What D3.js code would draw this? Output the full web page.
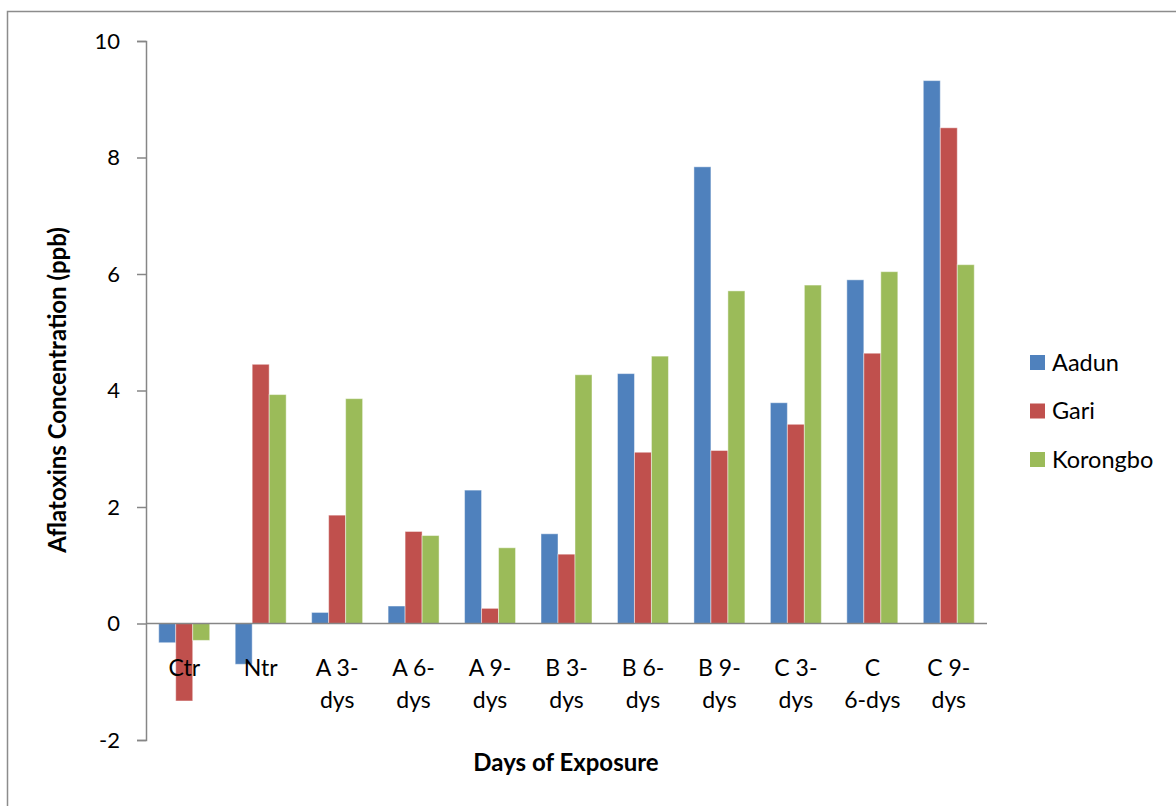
<!DOCTYPE html>
<html>
<head>
<meta charset="utf-8">
<script src="https://cdn.jsdelivr.net/npm/d3@7"></script>
<style>
  body { margin: 0; background: #fff; }
  text { font-family: Lato, "Open Sans", sans-serif; fill: #000; }
</style>
</head>
<body>
<div id="chart"></div>
<script>
// data
var categories = ["Ctr", "Ntr", "A 3-dys", "A 6-dys", "A 9-dys", "B 3-dys", "B 6-dys", "B 9-dys", "C 3-dys", "C 6-dys", "C 9-dys"];
// how each category label wraps onto two lines
var categoryLines = [["Ctr"], ["Ntr"], ["A 3-", "dys"], ["A 6-", "dys"], ["A 9-", "dys"], ["B 3-", "dys"], ["B 6-", "dys"], ["B 9-", "dys"], ["C 3-", "dys"], ["C", "6-dys"], ["C 9-", "dys"]];
var seriesNames = ["Aadun", "Gari", "Korongbo"];
var aadun    = [-0.33, -0.70, 0.19, 0.30, 2.29, 1.54, 4.29, 7.84, 3.79, 5.90, 9.32];
var gari     = [-1.33, 4.45, 1.86, 1.58, 0.26, 1.19, 2.94, 2.97, 3.42, 4.64, 8.51];
var korongbo = [-0.29, 3.93, 3.86, 1.51, 1.30, 4.27, 4.59, 5.71, 5.81, 6.04, 6.16];
var yTicks = [-2, 0, 2, 4, 6, 8, 10];
var colors = ["#4F81BD", "#C0504D", "#9BBB59"];

var svgWidth = 1176;
var svgHeight = 806;

// plot area
var margin = { top: 41, left: 146 };
var plotWidth = 841;
var plotHeight = 699;

var svg = d3.select("#chart").append("svg")
    .attr("width", svgWidth)
    .attr("height", svgHeight);

// outer chart border (runs off the right and bottom edges)
svg.append("rect")
    .attr("x", 7.5).attr("y", 11.5)
    .attr("width", 1200).attr("height", 820)
    .attr("fill", "none")
    .attr("stroke", "#8c8c8c")
    .attr("stroke-width", 1.5);

var chartGroup = svg.append("g")
    .attr("transform", `translate(${margin.left}, ${margin.top})`);

// scales
var yScale = d3.scaleLinear()
    .domain([-2, 10])
    .range([plotHeight, 0]);

var x0 = d3.scaleBand()
    .domain(categories)
    .range([0, plotWidth])
    .padding(0);

// Excel style gap width of 150%
var bw = x0.bandwidth();
var x1 = d3.scaleBand()
    .domain(seriesNames)
    .range([bw * 0.75 / 4.5, bw - bw * 0.75 / 4.5])
    .padding(0);

var rows = categories.map(function (c, i) {
    return { cat: c, values: [aadun[i], gari[i], korongbo[i]] };
});

// y axis
var leftAxis = d3.axisLeft(yScale)
    .tickValues(yTicks)
    .tickSize(9)
    .tickPadding(17)
    .tickFormat(d => String(d));

var yAxisG = chartGroup.append("g").call(leftAxis);
yAxisG.select(".domain").attr("stroke", "#868686").attr("stroke-width", 1.5);
yAxisG.selectAll(".tick line").attr("stroke", "#868686").attr("stroke-width", 1.5);
yAxisG.selectAll(".tick text")
    .style("font-size", "22px")
    .style("font-family", "Lato, 'Open Sans', sans-serif")
    .attr("fill", "#000");

// bars
var groups = chartGroup.selectAll(".cat")
    .data(rows)
    .enter()
    .append("g")
    .attr("class", "cat")
    .attr("transform", d => `translate(${x0(d.cat)}, 0)`);

groups.selectAll("rect")
    .data(d => d.values.map((v, j) => ({ name: seriesNames[j], value: v, j: j })))
    .enter()
    .append("rect")
    .attr("x", d => x1(d.name))
    .attr("width", x1.bandwidth())
    .attr("y", d => yScale(Math.max(0, d.value)))
    .attr("height", d => Math.abs(yScale(d.value) - yScale(0)))
    .attr("fill", d => colors[d.j])
    .attr("stroke", "rgba(255,255,255,0.45)")
    .attr("stroke-width", 1);

// zero line (category axis)
chartGroup.append("line")
    .attr("x1", 0).attr("x2", plotWidth)
    .attr("y1", yScale(0)).attr("y2", yScale(0))
    .attr("stroke", "#868686")
    .attr("stroke-width", 1.5);

// category labels, two lines each
var catLabels = chartGroup.selectAll(".catLabel")
    .data(categories)
    .enter()
    .append("text")
    .attr("class", "catLabel")
    .attr("text-anchor", "middle")
    .style("font-size", "23px")
    .attr("transform", d => `translate(${x0(d) + bw / 2}, ${yScale(0) + 52})`);

catLabels.selectAll("tspan")
    .data((d, i) => categoryLines[i])
    .enter()
    .append("tspan")
    .attr("x", 0)
    .attr("y", (d, k) => k * 32)
    .text(d => d);

// axis titles
svg.append("text")
    .attr("transform", "translate(66, 390) rotate(-90)")
    .attr("text-anchor", "middle")
    .style("font-size", "24px")
    .style("font-weight", "bold")
    .text("Aflatoxins Concentration (ppb)");

svg.append("text")
    .attr("x", 566)
    .attr("y", 771)
    .attr("text-anchor", "middle")
    .style("font-size", "24px")
    .style("font-weight", "bold")
    .text("Days of Exposure");

// legend
var legend = svg.selectAll(".legend")
    .data(seriesNames)
    .enter()
    .append("g")
    .attr("class", "legend")
    .attr("transform", (d, i) => `translate(1030, ${355 + i * 48.5})`);

legend.append("rect")
    .attr("width", 15)
    .attr("height", 15)
    .attr("fill", (d, i) => colors[i]);

legend.append("text")
    .attr("x", 22)
    .attr("y", 15.5)
    .style("font-size", "23.5px")
    .text(d => d);
</script>
</body>
</html>
